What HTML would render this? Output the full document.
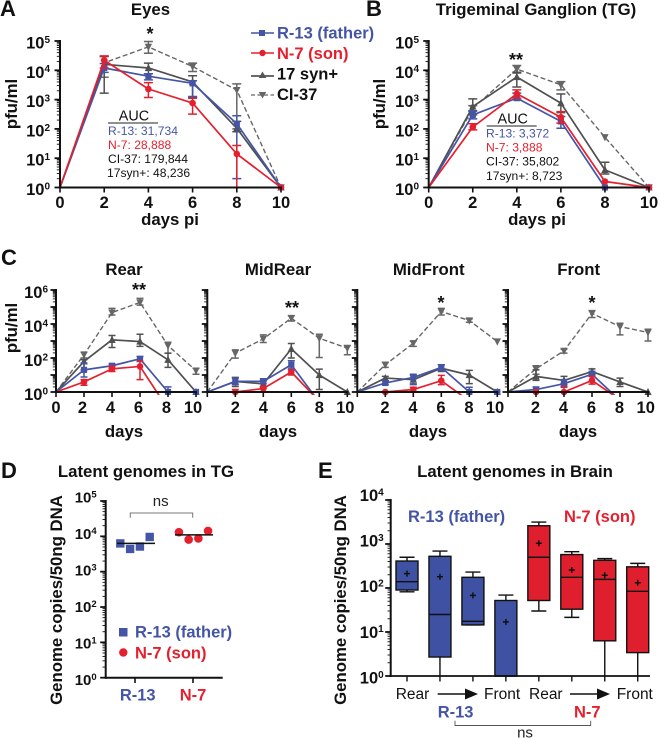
<!DOCTYPE html>
<html lang="en">
<head>
<meta charset="utf-8">
<title>HSV latency figure</title>
<style>
html,body{margin:0;padding:0;background:#fff;}
svg{display:block;font-family:"Liberation Sans",Arial,sans-serif;}
.b{font-weight:700;}
.t{font-weight:700;font-size:16.8px;text-anchor:middle;fill:#111;}
.p{font-weight:700;font-size:22px;fill:#111;}
.auc{font-size:12.1px;}
.blue{fill:#4555a6;}
.red{fill:#e5202e;}
.star{font-weight:700;font-size:18px;text-anchor:middle;fill:#111;}
</style>
</head>
<body>
<svg id="fig" xmlns="http://www.w3.org/2000/svg" width="660" height="738" viewBox="0 0 660 738">
<rect width="660" height="738" fill="#fff"/>
<text class="p" x="0" y="16">A</text>
<text class="p" x="366" y="16">B</text>
<text class="p" x="1" y="265">C</text>
<text class="p" x="1" y="478">D</text>
<text class="p" x="318" y="478">E</text>

<text class="t" x="150.5" y="15">Eyes</text>
<text class="t" x="536" y="15">Trigeminal Ganglion (TG)</text>
<text class="t" x="124" y="275">Rear</text>
<text class="t" x="278" y="275">MidRear</text>
<text class="t" x="428.7" y="275">MidFront</text>
<text class="t" x="578.7" y="275">Front</text>
<text class="t" x="146" y="477">Latent genomes in TG</text>
<text class="t" x="515" y="477">Latent genomes in Brain</text>

<text class="t" transform="translate(17,104) rotate(-90)">pfu/ml</text>
<text class="t" transform="translate(385,104) rotate(-90)">pfu/ml</text>
<text class="t" transform="translate(17,328) rotate(-90)">pfu/ml</text>
<text class="t" transform="translate(62,600) rotate(-90)">Genome copies/50ng DNA</text>
<text class="t" transform="translate(346,600) rotate(-90)">Genome copies/50ng DNA</text>

<text class="t" x="170" y="225">days pi</text>
<text class="t" x="537" y="225">days pi</text>
<text class="t" x="124" y="437">days</text>
<text class="t" x="278" y="437">days</text>
<text class="t" x="428" y="437">days</text>
<text class="t" x="578" y="437">days</text>

<text class="star" x="150" y="40">*</text>
<text class="star" x="516" y="66">**</text>
<text class="star" x="139" y="296">**</text>
<text class="star" x="292" y="314">**</text>
<text class="star" x="441" y="309">*</text>
<text class="star" x="592" y="309">*</text>

<g>
  <g>
    <line x1="251" x2="274" y1="33" y2="33" stroke="#4555a6" stroke-width="1.6"/>
    <rect x="259" y="30" width="6" height="6" fill="#4555a6"/>
    <text class="b blue" x="277" y="38.5" font-size="16.5">R-13 (father)</text>
  </g>
  <g>
    <line x1="251" x2="274" y1="53" y2="53" stroke="#e5202e" stroke-width="1.6"/>
    <circle cx="262.5" cy="53" r="3.2" fill="#e5202e"/>
    <text class="b red" x="277" y="59" font-size="16.5">N-7 (son)</text>
  </g>
  <g>
    <line x1="251" x2="274" y1="76" y2="76" stroke="#555" stroke-width="1.7"/>
    <path d="M262.5 71.5l3.8 6.5h-7.6z" fill="#555"/>
    <text class="b" x="277" y="79.5" font-size="16.5" fill="#111">17 syn+</text>
  </g>
  <g>
    <line x1="251" x2="274" y1="95" y2="95" stroke="#666" stroke-width="1.3" stroke-dasharray="4 2.5"/>
    <path d="M258.7 92h7.6l-3.8 6.5z" fill="#666"/>
    <text class="b" x="277" y="100" font-size="16.5" fill="#111">CI-37</text>
  </g>
</g>

<g>
  <text x="134" y="120.7" font-size="14.4" text-anchor="middle" fill="#111">AUC</text>
  <line x1="108" x2="158" y1="123" y2="123" stroke="#222" stroke-width="1"/>
  <text class="auc blue" x="108" y="135">R-13: 31,734</text>
  <text class="auc red" x="108" y="149">N-7: 28,888</text>
  <text class="auc" x="108" y="163" fill="#111">CI-37: 179,844</text>
  <text class="auc" x="107" y="177" fill="#111">17syn+: 48,236</text>
</g>
<g>
  <text x="512.7" y="123.3" font-size="14.4" text-anchor="middle" fill="#111">AUC</text>
  <line x1="486.7" x2="536.7" y1="126" y2="126" stroke="#222" stroke-width="1"/>
  <text class="auc blue" x="486" y="137.5">R-13: 3,372</text>
  <text class="auc red" x="486" y="151.7">N-7: 3,888</text>
  <text class="auc" x="486" y="165.7" fill="#111">CI-37: 35,802</text>
  <text class="auc" x="486" y="180" fill="#111">17syn+: 8,723</text>
</g>

<g>
  <g>
    <rect x="119" y="628" width="8.5" height="8.5" fill="#4555a6"/>
    <text class="b blue" x="135" y="637.7" font-size="16.5">R-13 (father)</text>
  </g>
  <g>
    <circle cx="123.3" cy="652.5" r="4.2" fill="#e5202e"/>
    <text class="b red" x="135" y="658.5" font-size="16.5">N-7 (son)</text>
  </g>
</g>
<g>
  <path d="M130.3 517.7V513H192.7V517.7" fill="none" stroke="#777" stroke-width="1"/>
  <text x="160.7" y="506" font-size="15" text-anchor="middle" fill="#222">ns</text>
</g>

<text class="b blue" x="408" y="522" font-size="16.5">R-13 (father)</text>
<text class="b red" x="564" y="522" font-size="16.5">N-7 (son)</text>
<g font-size="15.5" fill="#111">
  <text x="395.7" y="699">Rear</text>
  <text x="484" y="699">Front</text>
  <text x="529" y="699">Rear</text>
  <text x="616.7" y="699">Front</text>
</g>
<g>
  <line x1="437.7" x2="466" y1="694" y2="694" stroke="#111" stroke-width="1.6"/>
  <path d="M465 688.5L478 694L465 699.5z" fill="#111"/>
</g>
<g>
  <line x1="570" x2="598" y1="694" y2="694" stroke="#111" stroke-width="1.6"/>
  <path d="M597 688.5L610 694L597 699.5z" fill="#111"/>
</g>
<text class="b blue" x="437.7" y="717.7" font-size="16.5">R-13</text>
<text class="b red" x="574" y="717.7" font-size="16.5">N-7</text>
<g>
  <path d="M455 720.7V725.5H590.7V720.7" fill="none" stroke="#555" stroke-width="0.9"/>
  <text x="525" y="737.5" font-size="15" text-anchor="middle" fill="#222">ns</text>
</g>

<g id="charts"></g>
</svg>

<script>
const days = [0, 2, 4, 6, 8, 10];
const tickLabelsAB = [0, 1, 2, 3, 4, 5];
const tickLabelsC = [0, 2, 4, 6];
const tickLabelsD = [0, 1, 2, 3, 4, 5];
const tickLabelsE = [0, 1, 2, 3, 4];

// Panel A: Eyes
const eyesR13 = [1, 12000, 6300, 3600, 150, 1];
const eyesR13Hi = [null, 17000, 7600, 4400, 280, null];
const eyesR13Lo = [null, 8500, 4700, 1270, 2, null];
const eyesN7 = [1, 22000, 2300, 760, 14, 1];
const eyesN7Hi = [null, 31000, 3800, 1110, 27, null];
const eyesN7Lo = [null, 12000, 1180, 320, 1, null];
const eyes17 = [1, 16000, 12000, 4000, 105, 1];
const eyes17Hi = [null, 29500, 17500, 6500, 180, null];
const eyes17Lo = [null, 1660, 7600, 1200, 80, null];
const eyesCI = [1, 18000, 63000, 13500, 2100, 1];
const eyesCIHi = [null, 29500, 96000, 17500, 3450, null];
const eyesCILo = [null, 5800, 38000, 9100, 100, null];

// Panel B: Trigeminal ganglion
const tgR13 = [1, 300, 1120, 180, 1, 1];
const tgR13Hi = [null, 415, 1660, 265, null, null];
const tgR13Lo = [null, 220, 1000, 105, null, null];
const tgN7 = [1, 115, 1580, 250, 1.6, 1];
const tgN7Hi = [null, 150, 2150, 390, null, null];
const tgN7Lo = [null, 93, 1120, 157, null, null];
const tg17 = [1, 580, 5900, 760, 4, 1];
const tg17Hi = [null, 1060, 8600, 1550, 7.3, null];
const tg17Lo = [null, 300, 2700, 360, 2.9, null];
const tgCI = [1, 500, 11000, 3200, 52, 1];
const tgCIHi = [null, 620, 14600, 4100, null, null];
const tgCILo = [null, 400, 8000, 2150, null, null];

// Panel C: Rear
const rearR13 = [1, 20, 35, 89, 1, 1];
const rearR13Hi = [null, 50, 44, 123, 2, null];
const rearR13Lo = [null, 7.6, 25, 63, 1, null];
const rearN7 = [1, 3.9, 23, 32, 0.1, 0.1];
const rearN7Hi = [null, 5.3, 32, 63, null, null];
const rearN7Lo = [null, 2.5, 16, 5.3, null, null];
const rear17 = [1, 63, 1170, 930, 78, 1];
const rear17Hi = [null, 80, 2100, 2500, 195, null];
const rear17Lo = [null, 20, 415, 480, 28, null];
const rearCI = [1, 155, 47000, 186000, 540, 18];
const rearCIHi = [null, 220, 83000, 320000, 850, 25];
const rearCILo = [null, 100, 34000, 130000, 190, 11];

// Panel C: MidRear
const midRearR13 = [1, 4.2, 4.2, 40, 0.25, 0.1];
const midRearR13Hi = [null, 6.6, 6, 69, null, null];
const midRearR13Lo = [null, 2.7, 3, 23, null, null];
const midRearN7 = [1, 1, 1.6, 15, 0.28, 0.1];
const midRearN7Hi = [null, 1.4, 2.1, 20, null, null];
const midRearN7Lo = [null, 1, 1, 10, null, null];
const midRear17 = [1, 4.2, 3, 345, 10, 1];
const midRear17Hi = [null, 7.2, 4.6, 710, 22, null];
const midRear17Lo = [null, 2.1, 1.7, 100, 1.4, null];
const midRearCI = [1, 194, 1330, 22000, 1450, 380];
const midRearCIHi = [null, 300, 2300, 31000, 2500, 540];
const midRearCILo = [null, 98, 810, 15000, 107, 155];

// Panel C: MidFront
const midFrontR13 = [1, 3.4, 7.2, 28, 1, 1];
const midFrontR13Hi = [null, 4.6, 11, 40, 1.9, null];
const midFrontR13Lo = [null, 2.7, 2.7, 18, 1, null];
const midFrontN7 = [1, 1, 1.4, 4.6, 0.3, 0.1];
const midFrontN7Hi = [null, null, 1.9, 9.5, null, null];
const midFrontN7Lo = [null, null, 1, 2.7, null, null];
const midFront17 = [1, 6.6, 5.3, 25, 10, 1];
const midFront17Hi = [null, 8.3, 10, 40, 18.6, null];
const midFront17Lo = [null, 4.6, 3, 16, 3.1, null];
const midFrontCI = [1, 40, 740, 54000, 16000, 930];
const midFrontCIHi = [null, 55, 1000, 83000, 20000, null];
const midFrontCILo = [null, 28, 480, 34000, 12600, null];

// Panel C: Front
const frontR13 = [1, 1.4, 3.1, 11, 0.32, 0.1];
const frontR13Hi = [null, 1.96, 5.3, 16.3, null, null];
const frontR13Lo = [null, 1, 1.9, 8.3, null, null];
const frontN7 = [1, 1, 1, 4.8, 0.35, 0.1];
const frontN7Hi = [null, null, 2.1, 8.3, null, null];
const frontN7Lo = [null, null, 1, 2.9, null, null];
const front17 = [1, 8.3, 4.8, 16, 3.9, 1];
const front17Hi = [null, 20, 8.3, 23, 6.6, null];
const front17Lo = [null, 4.8, 2.7, 10.4, 2.1, null];
const frontCI = [1, 23, 265, 42000, 7000, 3200];
const frontCIHi = [null, 35, 330, 61000, 11000, 4900];
const frontCILo = [null, 11, 195, 24000, 2300, 1000];

// Panel D: latent genomes in TG
const tgCategories = ['R-13', 'N-7'];
const latentR13 = [6300, 4400, 5150, 9600];
const latentN7 = [13100, 8100, 8700, 14200];
const latentR13Mean = 6300;
const latentN7Mean = 11000;

// Panel E: latent genomes in brain
const brainGroups = ['r13', 'r13', 'r13', 'r13', 'n7', 'n7', 'n7', 'n7'];
const brainHi = [500, 690, 230, 69, 3160, 670, 465, 363];
const brainQ3 = [410, 525, 175, 52, 2600, 575, 425, 303];
const brainMedian = [139, 25, 17.5, 1, 500, 175, 157, 84];
const brainQ1 = [90, 2.7, 14.5, 1, 52, 33, 6.3, 3.4];
const brainLo = [82, 1, 14.5, 1, 30, 21.5, 1, 1];
const brainMean = [212, 180, 68, 17, 1040, 257, 195, 132];

const NS = 'http://www.w3.org/2000/svg';
const root = document.getElementById('charts');
const COLORS = { r13: '#4555a6', n7: '#e5202e', s17: '#505050', ci: '#666666' };

function mk(tag, parent, attrs) {
  const n = document.createElementNS(NS, tag);
  for (const k in attrs) n.setAttribute(k, attrs[k]);
  parent.appendChild(n);
  return n;
}
function logScale(yBase, yTop, decades) {
  return v => yBase - Math.log10(v) / decades * (yBase - yTop);
}
function linScale(x0, xMax, domainMax) {
  return d => x0 + d / domainMax * (xMax - x0);
}
function drawYAxis(parent, x, y, minDecade, maxDecade, labels, fontSize, expSize, offset, drift, gap) {
  const axis = mk('line', parent, { x1: x, x2: x, y1: y(Math.pow(10, maxDecade)) - 1, y2: y(1) + 1, stroke: '#111', 'stroke-width': 2 });
  
  
  for (let d = minDecade; d <= maxDecade; d++) {
    const major = mk('line', parent, { x1: x - 5.5, x2: x, y1: y(Math.pow(10, d)), y2: y(Math.pow(10, d)), stroke: '#111', 'stroke-width': 1.8 });
    
    
    if (d < maxDecade) {
      for (let m = 2; m < 10; m++) {
        const minor = mk('line', parent, { x1: x - 3.2, x2: x, y1: y(m * Math.pow(10, d)), y2: y(m * Math.pow(10, d)), stroke: '#111', 'stroke-width': 0.9 });
        
        
      }
    }
  }
  labels.forEach(exp => {
    const baseY = y(Math.pow(10, exp)) + offset + (maxDecade - exp) * drift;
    const t = mk('text', parent, { x: x - gap, y: baseY, 'text-anchor': 'end', 'font-weight': 700, 'font-size': fontSize, fill: '#111' });
    
    
    const a = mk('tspan', t, {});
    a.textContent = '10';
    const b = mk('tspan', t, { dy: -fontSize * 0.34, 'font-size': expSize });
    b.textContent = String(exp);
  });
}
function drawXAxis(parent, x, x0, x1, yBase, ticks, labels, fontSize, baseline, labelDx, lastDx) {
  const axis = mk('line', parent, { x1: x0 - 1, x2: x1 + 1, y1: yBase, y2: yBase, stroke: '#111', 'stroke-width': 2 });
  
  
  ticks.forEach((d, i) => {
    const tick = mk('line', parent, { x1: x(d), x2: x(d), y1: yBase, y2: yBase + 5, stroke: '#111', 'stroke-width': 1.6 });
    
    
    if (labels[i] !== '') {
      const dx = i === 0 ? 0 : (i === ticks.length - 1 ? lastDx : labelDx);
      const t = mk('text', parent, { x: x(d) + dx, y: baseline, 'text-anchor': 'middle', 'font-weight': 700, 'font-size': fontSize, fill: '#111' });
      
      
      t.textContent = labels[i];
    }
  });
}
function marker(parent, key, px, py, size) {
  let m;
  const s = size;
  if (key === 'r13') {
    m = mk('rect', parent, { x: px - s, y: py - s, width: 2 * s, height: 2 * s, fill: COLORS.r13 });
  } else if (key === 'n7') {
    m = mk('circle', parent, { cx: px, cy: py, r: s + 0.2, fill: COLORS.n7 });
  } else if (key === 's17') {
    m = mk('path', parent, { d: `M${px} ${py - s - 1}l${s + 0.6} ${2 * s + 1}h${-2 * s - 1.2}z`, fill: COLORS.s17 });
  } else {
    m = mk('path', parent, { d: `M${px - s - 0.6} ${py - s}h${2 * s + 1.2}l${-s - 0.6} ${2 * s + 1}z`, fill: COLORS.ci });
  }
  return m;
}
let clipCount = 0;
function drawLinePanel(name, x, y, x0, x1, yBase, yTop, series, capW) {
  const g = mk('g', root, {});
  
  
  clipCount++;
  const clip = mk('clipPath', g, { id: 'clip' + clipCount });
  mk('rect', clip, { x: x0 - 2, y: yTop - 5, width: x1 - x0 + 12, height: yBase - yTop + 8 });
  series.forEach(s => {
    const sg = mk('g', g, { 'clip-path': `url(#clip${clipCount})` });
    
    
    const pts = days.map((d, i) => x(d).toFixed(2) + ',' + Math.min(y(s.vals[i]), yBase + 60).toFixed(2)).join(' ');
    const attrs = { points: pts, fill: 'none', stroke: COLORS[s.key], 'stroke-width': s.key === 'ci' ? 1.4 : 1.7, 'stroke-linejoin': 'round' };
    if (s.key === 'ci') attrs['stroke-dasharray'] = '5 2.6';
    const line = mk('polyline', sg, attrs);
    
    
    days.forEach((d, i) => {
      const hi = s.hi[i], lo = s.lo[i], px = x(d);
      if (hi !== null || lo !== null) {
        const top = y(hi !== null ? hi : s.vals[i]), bot = y(lo !== null ? lo : s.vals[i]);
        const err = mk('path', sg, { d: `M${px - capW} ${top}H${px + capW}M${px} ${top}V${bot}M${px - capW} ${bot}H${px + capW}`, fill: 'none', stroke: COLORS[s.key], 'stroke-width': 1.5 });
        
        
      }
      if (i > 0 && s.vals[i] >= 1) {
        const m = marker(sg, s.key, px, y(s.vals[i]), 3.1);
        
        
      }
    });
  });
  return g;
}
function seriesSet(ci, ciHi, ciLo, s17, s17Hi, s17Lo, r13, r13Hi, r13Lo, n7, n7Hi, n7Lo) {
  return [
    { key: 'ci', vals: ci, hi: ciHi, lo: ciLo },
    { key: 's17', vals: s17, hi: s17Hi, lo: s17Lo },
    { key: 'r13', vals: r13, hi: r13Hi, lo: r13Lo },
    { key: 'n7', vals: n7, hi: n7Hi, lo: n7Lo }
  ];
}

// Panels A and B
const yTop = logScale(187.5, 41, 5);
const xA = linScale(60, 281, 10);
const gA = drawLinePanel('chart-eyes', xA, yTop, 60, 281, 187.5, 41,
  seriesSet(eyesCI, eyesCIHi, eyesCILo, eyes17, eyes17Hi, eyes17Lo, eyesR13, eyesR13Hi, eyesR13Lo, eyesN7, eyesN7Hi, eyesN7Lo), 4.5);
drawYAxis(gA, 60, yTop, 0, 5, tickLabelsAB, 16.5, 10, 7.5, 0, 10);
drawXAxis(gA, xA, 60, 281, 187.5, days, days.map(String), 16.5, 208, 0, 0);

const xB = linScale(428.7, 649, 10);
const gB = drawLinePanel('chart-tg', xB, yTop, 428.7, 649, 187.5, 41,
  seriesSet(tgCI, tgCIHi, tgCILo, tg17, tg17Hi, tg17Lo, tgR13, tgR13Hi, tgR13Lo, tgN7, tgN7Hi, tgN7Lo), 4.5);
drawYAxis(gB, 428.7, yTop, 0, 5, tickLabelsAB, 16.5, 10, 7.5, 0, 9.7);
drawXAxis(gB, xB, 428.7, 649, 187.5, days, days.map(String), 16.5, 208, 0, 0);

// Panel C
const yC = logScale(392, 290, 6);
const cPanels = [
  { name: 'chart-rear', x0: 56, set: seriesSet(rearCI, rearCIHi, rearCILo, rear17, rear17Hi, rear17Lo, rearR13, rearR13Hi, rearR13Lo, rearN7, rearN7Hi, rearN7Lo), labels: days.map(String), yLabels: tickLabelsC, dx: -1.5, last: -3 },
  { name: 'chart-midrear', x0: 207.3, set: seriesSet(midRearCI, midRearCIHi, midRearCILo, midRear17, midRear17Hi, midRear17Lo, midRearR13, midRearR13Hi, midRearR13Lo, midRearN7, midRearN7Hi, midRearN7Lo), labels: ['', '2', '4', '6', '8', '10'], yLabels: [], dx: 0, last: -2 },
  { name: 'chart-midfront', x0: 357.3, set: seriesSet(midFrontCI, midFrontCIHi, midFrontCILo, midFront17, midFront17Hi, midFront17Lo, midFrontR13, midFrontR13Hi, midFrontR13Lo, midFrontN7, midFrontN7Hi, midFrontN7Lo), labels: ['', '2', '4', '6', '8', '10'], yLabels: [], dx: -0.3, last: -2.3 },
  { name: 'chart-front', x0: 508, set: seriesSet(frontCI, frontCIHi, frontCILo, front17, front17Hi, front17Lo, frontR13, frontR13Hi, frontR13Lo, frontN7, frontN7Hi, frontN7Lo), labels: ['', '2', '4', '6', '8', '10'], yLabels: [], dx: -0.5, last: -2.3 }
];
cPanels.forEach(p => {
  const xs = linScale(p.x0, p.x0 + 140, 10);
  const g = drawLinePanel(p.name, xs, yC, p.x0, p.x0 + 140, 392, 290, p.set, 3.5);
  drawYAxis(g, p.x0, yC, 0, 6, p.yLabels, 16.5, 10, 8, 0, 8);
  drawXAxis(g, xs, p.x0, p.x0 + 140, 392, days, p.labels, 16.5, 413, p.dx, p.last);
});

// Panel D
const yD = logScale(677.7, 501, 5);
const xD = i => 135 + i * 58;
const gD = mk('g', root, {});


drawYAxis(gD, 105.7, yD, 0, 5, tickLabelsD, 15, 9.5, 1.5, 1.15, 9);
const axisD = mk('line', gD, { x1: 105, x2: 222.7, y1: 677.7, y2: 677.7, stroke: '#111', 'stroke-width': 2 });


tgCategories.forEach((c, i) => {
  const tick = mk('line', gD, { x1: xD(i), x2: xD(i), y1: 677.7, y2: 683, stroke: '#111', 'stroke-width': 1.6 });
  
  
  const t = mk('text', gD, { x: xD(i) + (i === 0 ? 2.7 : 0), y: 700.7, 'text-anchor': 'middle', 'font-weight': 700, 'font-size': 16.5, fill: i === 0 ? COLORS.r13 : COLORS.n7 });
  
  
  t.textContent = c;
});
latentR13.forEach((v, i) => {
  const px = xD(0) + (i - 1.5) * 9.8, py = yD(v);
  const m = mk('rect', gD, { x: px - 4.2, y: py - 4.2, width: 8.4, height: 8.4, fill: COLORS.r13 });
  
  
});
latentN7.forEach((v, i) => {
  const px = xD(1) + (i - 1.5) * 9.7 + 0.5, py = yD(v);
  const m = mk('circle', gD, { cx: px, cy: py, r: 4.3, fill: COLORS.n7 });
  
  
});
[latentR13Mean, latentN7Mean].forEach((v, i) => {
  const mean = mk('line', gD, { x1: xD(i) - 18, x2: xD(i) + 20, y1: yD(v), y2: yD(v), stroke: '#111', 'stroke-width': 1.5 });
  
  
});

// Panel E
const yE = logScale(676, 500, 4);
const xE = i => 407 + i * 32.96;
const gE = mk('g', root, {});


brainGroups.forEach((grp, i) => {
  const cx = xE(i), hw = 11;
  const whisk = mk('path', gE, { d: `M${cx - 7.5} ${yE(brainHi[i])}H${cx + 7.5}M${cx} ${yE(brainHi[i])}V${yE(brainQ3[i])}M${cx} ${yE(brainQ1[i])}V${yE(brainLo[i])}` + (brainLo[i] > 1 ? `M${cx - 7.5} ${yE(brainLo[i])}H${cx + 7.5}` : ''), fill: 'none', stroke: '#111', 'stroke-width': 1.4 });
  
  
  const box = mk('rect', gE, { x: cx - hw, y: yE(brainQ3[i]), width: 2 * hw, height: yE(brainQ1[i]) - yE(brainQ3[i]), fill: grp === 'r13' ? '#3f51a3' : '#df1f2d', stroke: '#111', 'stroke-width': 1.4 });
  
  
  const med = mk('line', gE, { x1: cx - hw, x2: cx + hw, y1: yE(brainMedian[i]), y2: yE(brainMedian[i]), stroke: '#111', 'stroke-width': 1.4 });
  
  
  const plus = mk('path', gE, { d: `M${cx - 3} ${yE(brainMean[i])}H${cx + 3}M${cx} ${yE(brainMean[i]) - 3}V${yE(brainMean[i]) + 3}`, fill: 'none', stroke: '#111', 'stroke-width': 1.5 });
  
  
  const tick = mk('line', gE, { x1: cx, x2: cx, y1: 676, y2: 681.5, stroke: '#111', 'stroke-width': 1.4 });
  
  
});
drawYAxis(gE, 390.7, yE, 0, 4, tickLabelsE, 16.5, 10, 1, 1.6, 7);
const axisE = mk('line', gE, { x1: 390, x2: 650, y1: 676, y2: 676, stroke: '#111', 'stroke-width': 1.8 });


</script>
</body>
</html>
